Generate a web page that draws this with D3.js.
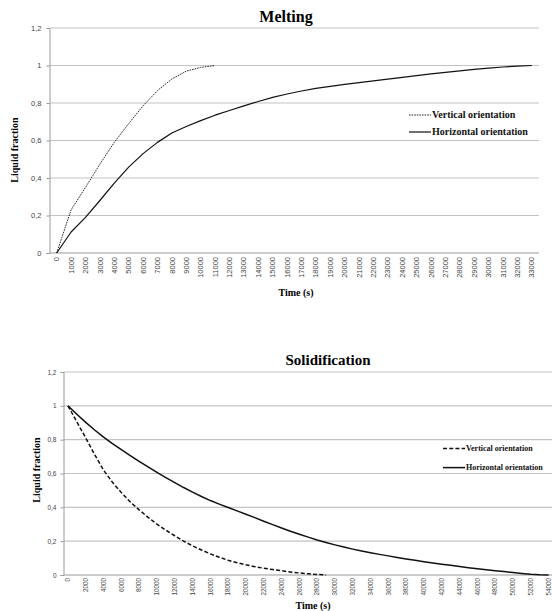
<!DOCTYPE html>
<html>
<head>
<meta charset="utf-8">
<script src="https://cdn.jsdelivr.net/npm/d3@7/dist/d3.min.js"></script>
<style>
  html, body { margin: 0; padding: 0; background: #fff; }
  svg { display: block; }
</style>
</head>
<body>
<svg id="chart" width="552" height="611"></svg>
<script>
// ---------- DATA ----------
const meltTime = [0,1000,2000,3000,4000,5000,6000,7000,8000,9000,10000,11000,12000,13000,14000,15000,16000,17000,18000,19000,20000,21000,22000,23000,24000,25000,26000,27000,28000,29000,30000,31000,32000,33000];
const meltVertical = [0,0.23,0.35,0.474,0.59,0.69,0.785,0.866,0.928,0.97,0.99,1.0];
const meltHorizontal = [0,0.112,0.19,0.28,0.373,0.458,0.53,0.59,0.64,0.675,0.706,0.735,0.76,0.785,0.808,0.83,0.848,0.864,0.878,0.889,0.899,0.909,0.918,0.927,0.937,0.946,0.955,0.963,0.971,0.979,0.986,0.992,0.997,1.0];

const solidTime = [0,1000,2000,3000,4000,5000,6000,7000,8000,9000,10000,11000,12000,13000,14000,15000,16000,17000,18000,19000,20000,21000,22000,23000,24000,25000,26000,27000,28000,29000,30000,31000,32000,33000,34000,35000,36000,37000,38000,39000,40000,41000,42000,43000,44000,45000,46000,47000,48000,49000,50000,51000,52000,53000,54000];
const solidTickLabels = ["0","2000","4000","6000","8000","10000","12000","14000","16000","18000","20000","22000","24000","26000","28000","30000","32000","34000","36000","38000","40000","42000","44000","46000","48000","50000","52000","54000"];
const solidVertical = [1.0,0.905,0.81,0.712,0.62,0.548,0.487,0.432,0.385,0.341,0.301,0.265,0.232,0.2,0.172,0.148,0.125,0.105,0.087,0.073,0.06,0.049,0.04,0.032,0.025,0.018,0.012,0.007,0.003,0.0];
const solidHorizontal = [1.0,0.95,0.902,0.857,0.815,0.777,0.741,0.706,0.672,0.639,0.607,0.576,0.546,0.517,0.49,0.464,0.44,0.419,0.399,0.379,0.359,0.339,0.318,0.298,0.278,0.259,0.241,0.224,0.207,0.192,0.178,0.165,0.153,0.142,0.132,0.122,0.113,0.104,0.095,0.087,0.079,0.071,0.064,0.057,0.05,0.043,0.037,0.031,0.025,0.02,0.015,0.009,0.004,0.001,0.0];

const yTicks = [0,0.2,0.4,0.6,0.8,1,1.2];
const yTickLabels = ["0","0,2","0,4","0,6","0,8","1","1,2"];
const legendLabels = ["Vertical orientation","Horizontal orientation"];

// ---------- DRAW ----------
const svg = d3.select("#chart");
const serif = "'Liberation Serif','DejaVu Serif',serif";
const sans = "'Liberation Sans','DejaVu Sans',sans-serif";
const gridColor = "#c4c4c4";

function panel(cfg) {
  const g = svg.append("g");
  const x = d3.scalePoint().domain(cfg.time).range([cfg.left, cfg.right]).padding(0.5);
  const y = d3.scaleLinear().domain([0, 1.2]).range([cfg.bottom, cfg.top]);

  // gridlines
  g.selectAll("line.grid").data(yTicks.filter(d => d > 0)).enter().append("line")
    .attr("x1", cfg.left).attr("x2", cfg.right)
    .attr("y1", d => y(d)).attr("y2", d => y(d))
    .attr("stroke", gridColor).attr("stroke-width", 1.1);

  // y axis
  const yAxis = d3.axisLeft(y).tickValues(yTicks).tickSize(3)
    .tickFormat((d, i) => yTickLabels[i]);
  const ya = g.append("g").attr("transform", `translate(${cfg.left},0)`).call(yAxis);
  ya.select(".domain").attr("stroke", "#9a9a9a");
  ya.selectAll(".tick line").attr("stroke", "#9a9a9a");
  ya.selectAll(".tick text").attr("font-family", sans).attr("font-size", cfg.yFont)
    .attr("fill", "#444").attr("x", -cfg.yLabelGap);

  // x axis line
  g.append("line").attr("x1", cfg.left).attr("x2", cfg.right)
    .attr("y1", y(0)).attr("y2", y(0)).attr("stroke", "#9a9a9a").attr("stroke-width", 1.1);

  // x tick labels (rotated)
  g.selectAll("text.xt").data(cfg.tickVals).enter().append("text")
    .attr("transform", (d) => `translate(${x(d) + cfg.xFont * 0.35},${y(0) + cfg.xLabelGap}) rotate(-90)`)
    .attr("text-anchor", "end")
    .attr("font-family", sans).attr("font-size", cfg.xFont).attr("fill", "#444")
    .text((d, i) => cfg.tickLabels[i]);

  // lines
  const line = d3.line().x(d => x(d.t)).y(d => y(d.v));
  const vData = cfg.vertical.map((v, i) => ({ t: cfg.time[i], v }));
  const hData = cfg.horizontal.map((v, i) => ({ t: cfg.time[i], v }));
  g.append("path").datum(hData).attr("d", line).attr("fill", "none")
    .attr("stroke", "#111").attr("stroke-width", cfg.hWidth).attr("stroke-linejoin", "round");
  g.append("path").datum(vData).attr("d", line).attr("fill", "none")
    .attr("stroke", "#111").attr("stroke-width", cfg.vWidth).attr("stroke-dasharray", cfg.dash);

  // title
  g.append("text").attr("x", cfg.titleX).attr("y", cfg.titleY).attr("text-anchor", "middle")
    .attr("font-family", serif).attr("font-weight", "bold").attr("font-size", cfg.titleSize)
    .attr("fill", "#000").text(cfg.title);

  // axis titles
  g.append("text").attr("transform", `translate(${cfg.yTitleX},${cfg.yTitleY}) rotate(-90)`)
    .attr("text-anchor", "middle").attr("font-family", serif).attr("font-weight", "bold")
    .attr("font-size", cfg.axisTitleSize).text("Liquid fraction");
  g.append("text").attr("x", cfg.xTitleX).attr("y", cfg.xTitleY).attr("text-anchor", "middle")
    .attr("font-family", serif).attr("font-weight", "bold")
    .attr("font-size", cfg.axisTitleSize).text("Time (s)");

  // legend
  legendLabels.forEach((lab, i) => {
    const ly = cfg.legY + i * cfg.legStep;
    g.append("line").attr("x1", cfg.legX).attr("x2", cfg.legX + cfg.legLen)
      .attr("y1", ly - cfg.legFont * 0.3).attr("y2", ly - cfg.legFont * 0.3)
      .attr("stroke", "#111")
      .attr("stroke-width", i === 0 ? cfg.vWidth : cfg.hWidth)
      .attr("stroke-dasharray", i === 0 ? cfg.dash : null);
    g.append("text").attr("x", cfg.legX + cfg.legLen + 1).attr("y", ly)
      .attr("font-family", serif).attr("font-weight", "bold").attr("font-size", cfg.legFont)
      .attr("fill", "#111").text(lab);
  });
}

panel({
  time: meltTime, vertical: meltVertical, horizontal: meltHorizontal,
  tickVals: meltTime, tickLabels: meltTime.map(String),
  left: 49.5, right: 539, top: 28, bottom: 253,
  yFont: 7.5, yLabelGap: 8, xFont: 7.5, xLabelGap: 4,
  hWidth: 1.2, vWidth: 0.9, dash: "1.6,1",
  title: "Melting", titleX: 286, titleY: 22, titleSize: 16,
  yTitleX: 18, yTitleY: 150, xTitleX: 296, xTitleY: 296, axisTitleSize: 10,
  legX: 409, legY: 118, legStep: 17, legLen: 22, legFont: 10
});

panel({
  time: solidTime, vertical: solidVertical, horizontal: solidHorizontal,
  tickVals: solidTickLabels.map(Number), tickLabels: solidTickLabels,
  left: 63.5, right: 553, top: 372, bottom: 575,
  yFont: 6.5, yLabelGap: 7, xFont: 6.3, xLabelGap: 3,
  hWidth: 1.5, vWidth: 1.5, dash: "4,2.2",
  title: "Solidification", titleX: 328, titleY: 365, titleSize: 15,
  yTitleX: 40, yTitleY: 470, xTitleX: 313, xTitleY: 609, axisTitleSize: 10,
  legX: 443, legY: 451, legStep: 19, legLen: 22, legFont: 8
});
</script>
</body>
</html>
